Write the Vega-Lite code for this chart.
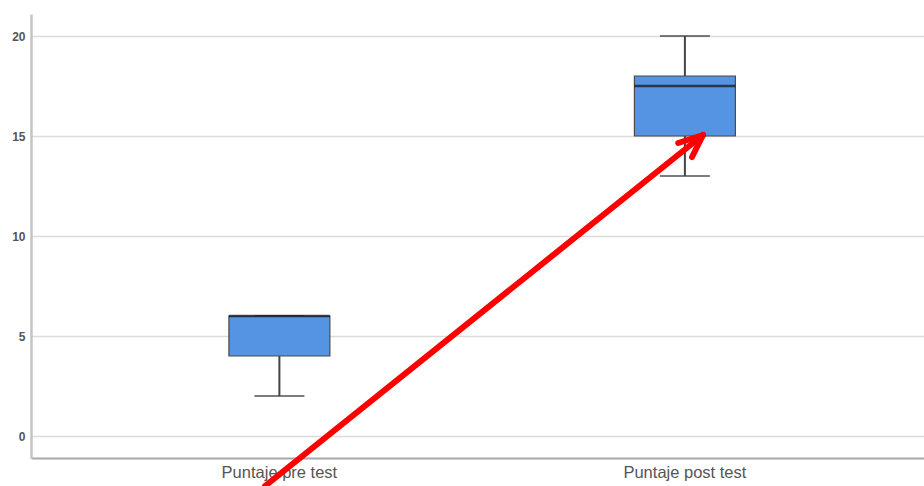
{
  "$schema": "https://vega.github.io/schema/vega-lite/v6.json",
  "autosize": {"type": "none"},
  "width": 893,
  "height": 444,
  "padding": {"left": 31, "top": 14, "right": 0, "bottom": 28},
  "background": "white",
  "config": {"view": {"stroke": null}, "font": "Liberation Sans"},
  "datasets": {
    "stats": [
      {"grupo": "Puntaje pre test", "min": 2, "q1": 4, "median": 6, "q3": 6, "max": 6},
      {"grupo": "Puntaje post test", "min": 13, "q1": 15, "median": 17.5, "q3": 18, "max": 20}
    ],
    "arrow": [
      {"x": 0.964, "y": -2.5, "x2": 2.044, "y2": 15.05},
      {"x": 1.983, "y": 14.65, "x2": 2.044, "y2": 15.05},
      {"x": 2.017, "y": 13.95, "x2": 2.044, "y2": 15.05}
    ]
  },
  "resolve": {"scale": {"x": "independent"}, "axis": {"x": "independent"}},
  "layer": [
    {
      "data": {"name": "stats"},
      "encoding": {
        "x": {
          "field": "grupo", "type": "nominal",
          "sort": ["Puntaje pre test", "Puntaje post test"],
          "scale": {"paddingInner": 0.751, "paddingOuter": 0.4766, "align": 0.512},
          "axis": {"title": null, "labelAngle": 0, "ticks": false, "domainColor": "#a8a8a8", "domainWidth": 2, "labelFontSize": 16.5, "labelColor": "#555555", "labelPadding": 6, "grid": false}
        }
      },
      "layer": [
        {
          "mark": {"type": "rule", "color": "#444444", "strokeWidth": 2},
          "encoding": {
            "y": {"field": "min", "type": "quantitative",
              "scale": {"domain": [-1.1, 21.1], "nice": false, "zero": false},
              "axis": {"title": null, "values": [0, 5, 10, 15, 20], "grid": true, "gridColor": "#dcdcdc", "gridWidth": 1.5, "domainColor": "#c4c4c4", "domainWidth": 2.5, "ticks": false, "labelColor": "#555555", "labelFontSize": 12, "labelFontWeight": 600, "labelPadding": 6}},
            "y2": {"field": "q1"}
          }
        },
        {
          "mark": {"type": "rule", "color": "#444444", "strokeWidth": 2},
          "encoding": {"y": {"field": "q3", "type": "quantitative"}, "y2": {"field": "max"}}
        },
        {
          "mark": {"type": "tick", "color": "#444444", "thickness": 2, "size": 50},
          "encoding": {"y": {"field": "min", "type": "quantitative"}}
        },
        {
          "mark": {"type": "tick", "color": "#444444", "thickness": 2, "size": 50},
          "encoding": {"y": {"field": "max", "type": "quantitative"}}
        },
        {
          "mark": {"type": "bar", "fill": "#5593e3", "stroke": "#4a4a4a", "strokeWidth": 1.2},
          "encoding": {"y": {"field": "q1", "type": "quantitative"}, "y2": {"field": "q3"}}
        },
        {
          "mark": {"type": "tick", "color": "#111111", "thickness": 2.5, "size": 101},
          "encoding": {"y": {"field": "median", "type": "quantitative"}}
        }
      ]
    },
    {
      "data": {"name": "arrow"},
      "mark": {"type": "rule", "color": "#ff0000", "strokeWidth": 6, "strokeCap": "round", "clip": false},
      "encoding": {
        "x": {"field": "x", "type": "quantitative", "scale": {"domain": [0.387, 2.589], "nice": false, "zero": false}, "axis": null},
        "x2": {"field": "x2"},
        "y": {"field": "y", "type": "quantitative"},
        "y2": {"field": "y2"}
      }
    }
  ]
}
